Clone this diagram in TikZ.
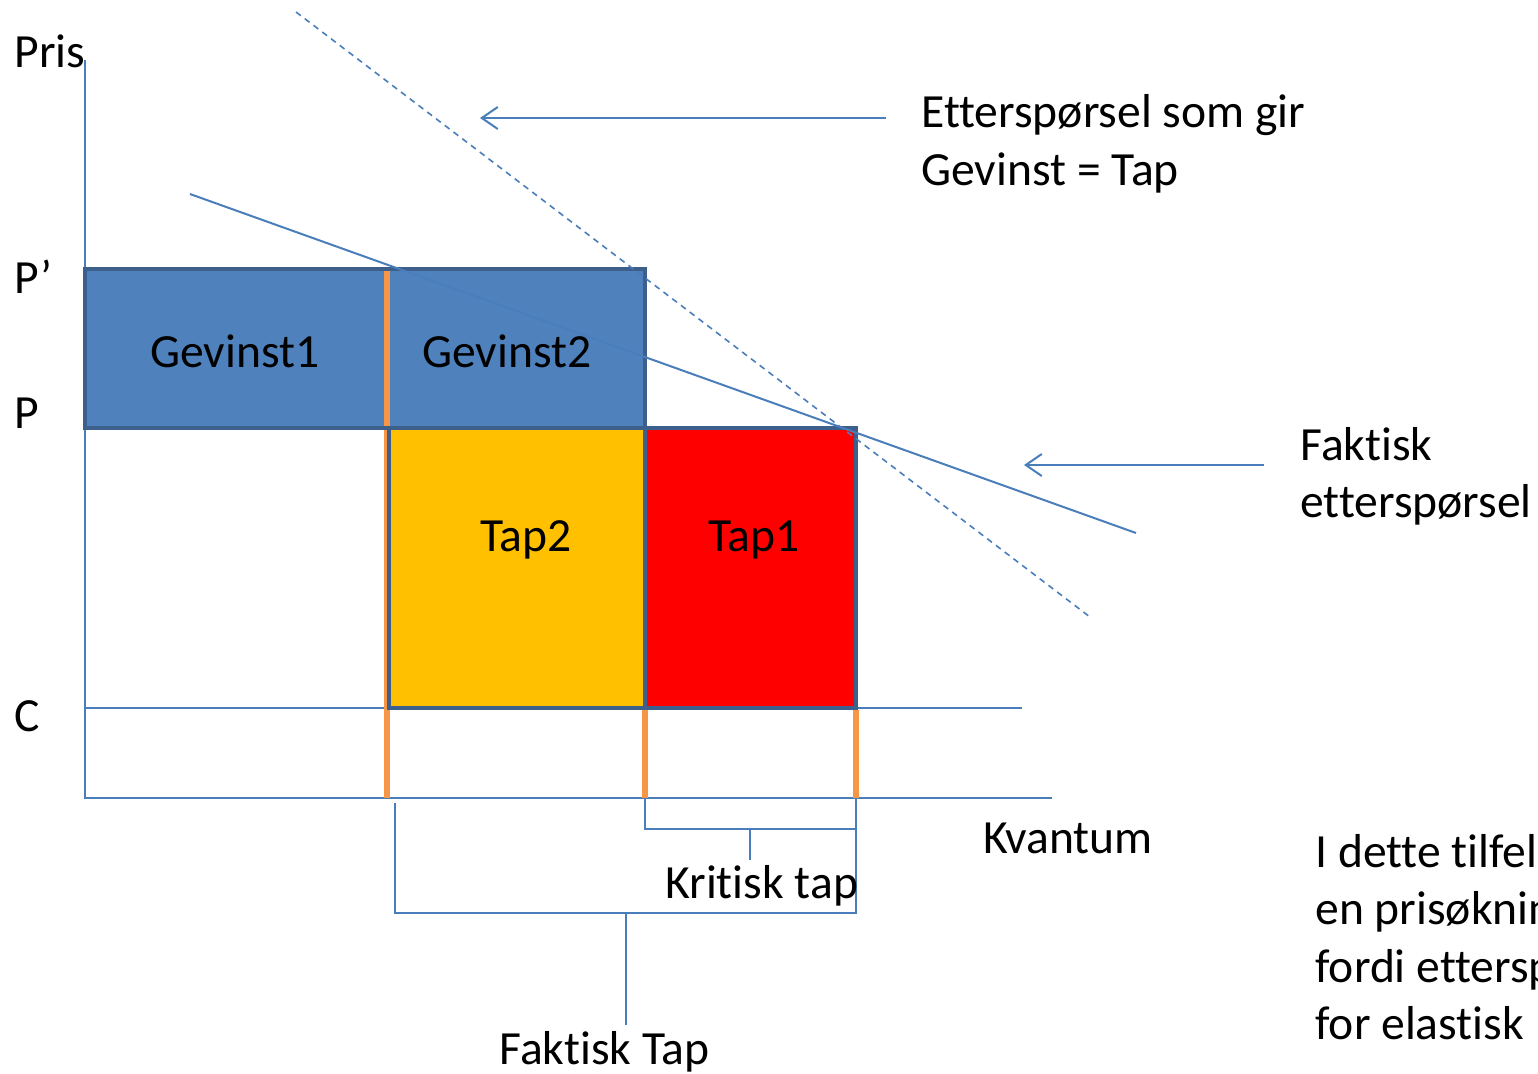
\documentclass[tikz,border=0pt]{standalone}
\usepackage{fontspec}
\setmainfont{Carlito}[Ligatures=CommonOff]
\usetikzlibrary{arrows.meta}
\definecolor{lineblue}{HTML}{4A7EBB}
\definecolor{boxblue}{HTML}{4F81BD}
\definecolor{edgeblue}{HTML}{3D5F8C}
\definecolor{orangeline}{HTML}{F79646}
\definecolor{gold}{HTML}{FFC000}
\begin{document}
\begin{tikzpicture}[x=0.5pt,y=-0.5pt,
  thinline/.style={draw=lineblue,line width=1pt},
  dashline/.style={draw=lineblue,line width=0.8pt,dash pattern=on 3pt off 2.5pt},
  edge/.style={draw=edgeblue,line width=2pt},
  orangemark/.style={draw=orangeline,line width=3pt},
  lbl/.style={inner sep=0pt,anchor=base west,font=\fontsize{23.8}{28.6}\selectfont},
  pointer/.style={thinline,-{Straight Barb[length=8pt,width=11pt,line width=1pt]}}]
\useasboundingbox (0,0) rectangle (1538,1073);
\clip (0,0) rectangle (1538,1073);

% axes
\coordinate (ytop) at (85,60);
\coordinate (orig) at (85,798);
\coordinate (xend) at (1052,798);
\coordinate (cl) at (85,708);
\coordinate (cr) at (1022,708);
\draw[thinline] (ytop) -- (orig) -- (xend);
\draw[thinline] (cl) -- (cr);

% orange divider (drawn below boxes)
\coordinate (o1t) at (387,269);
\coordinate (o1b) at (387,798);
\draw[orangemark] (o1t) -- (o1b);

% boxes
\fill[boxblue] (85,269) rectangle (645,428);
\draw[orangemark] (387,271) -- (387,426);
\draw[edge] (85,269) rectangle (645,428);
\fill[gold] (389,428) rectangle (645,708);
\draw[edge] (389,428) rectangle (645,708);
\fill[red] (645,428) rectangle (856,708);
\draw[edge] (645,428) rectangle (856,708);

% orange ticks below C
\coordinate (o2t) at (645,710);
\coordinate (o2b) at (645,798);
\coordinate (o3t) at (856,710);
\coordinate (o3b) at (856,798);
\draw[orangemark] (o2t) -- (o2b);
\draw[orangemark] (o3t) -- (o3b);

% demand curves
\coordinate (d1a) at (190,194);
\coordinate (d1b) at (1136,533);
\draw[thinline] (d1a) -- (d1b);
\coordinate (d2a) at (296,12);
\coordinate (d2b) at (1090,617);
\draw[dashline] (d2a) -- (d2b);

% pointer arrows
\coordinate (a1s) at (886,118);
\coordinate (a1e) at (480,118);
\draw[pointer] (a1s) -- (a1e);
\coordinate (a2s) at (1264,465);
\coordinate (a2e) at (1024,465);
\draw[pointer] (a2s) -- (a2e);

% brackets
\coordinate (k1) at (645,798);
\coordinate (k2) at (856,798);
\coordinate (kstem) at (750,829);
\coordinate (kend) at (750,860);
\draw[thinline] (k1) -- (645,829) -- (856,829) -- (k2);
\draw[thinline] (kstem) -- (kend);
\coordinate (f1) at (395,803);
\coordinate (f2) at (856,829);
\coordinate (fstem) at (626,913);
\coordinate (fend) at (626,1025);
\draw[thinline] (f1) -- (395,913) -- (856,913) -- (f2);
\draw[thinline] (fstem) -- (fend);

% labels
\node[lbl] (pris) at (14,67) {Pris};
\node[lbl] (pprime) at (14,293) {P’};
\node[lbl] (p) at (14,428) {P};
\node[lbl] (c) at (14,731) {C};
\node[lbl] (gev1) at (150,367) {Gevinst1};
\node[lbl] (gev2) at (422,367) {Gevinst2};
\node[lbl] (tap2) at (480,551) {Tap2};
\node[lbl] (tap1) at (708,551) {Tap1};
\node[lbl] (kvant) at (983,853) {Kvantum};
\node[lbl] (krit) at (665,898) {Kritisk tap};
\node[lbl] (fakt) at (499,1064) {Faktisk Tap};
\node[lbl] (ett1) at (921,127) {Etterspørsel som gir};
\node[lbl] (ett2) at (921,185) {Gevinst = Tap};
\node[lbl] (fe1) at (1300,460) {Faktisk};
\node[lbl] (fe2) at (1300,517) {etterspørsel};
\node[lbl] (n1) at (1315,867) {I dette tilfellet};
\node[lbl] (n2) at (1315,924) {en prisøkning};
\node[lbl] (n3) at (1315,982) {fordi etterspørselen};
\node[lbl] (n4) at (1315,1039) {for elastisk};
\end{tikzpicture}
\end{document}
